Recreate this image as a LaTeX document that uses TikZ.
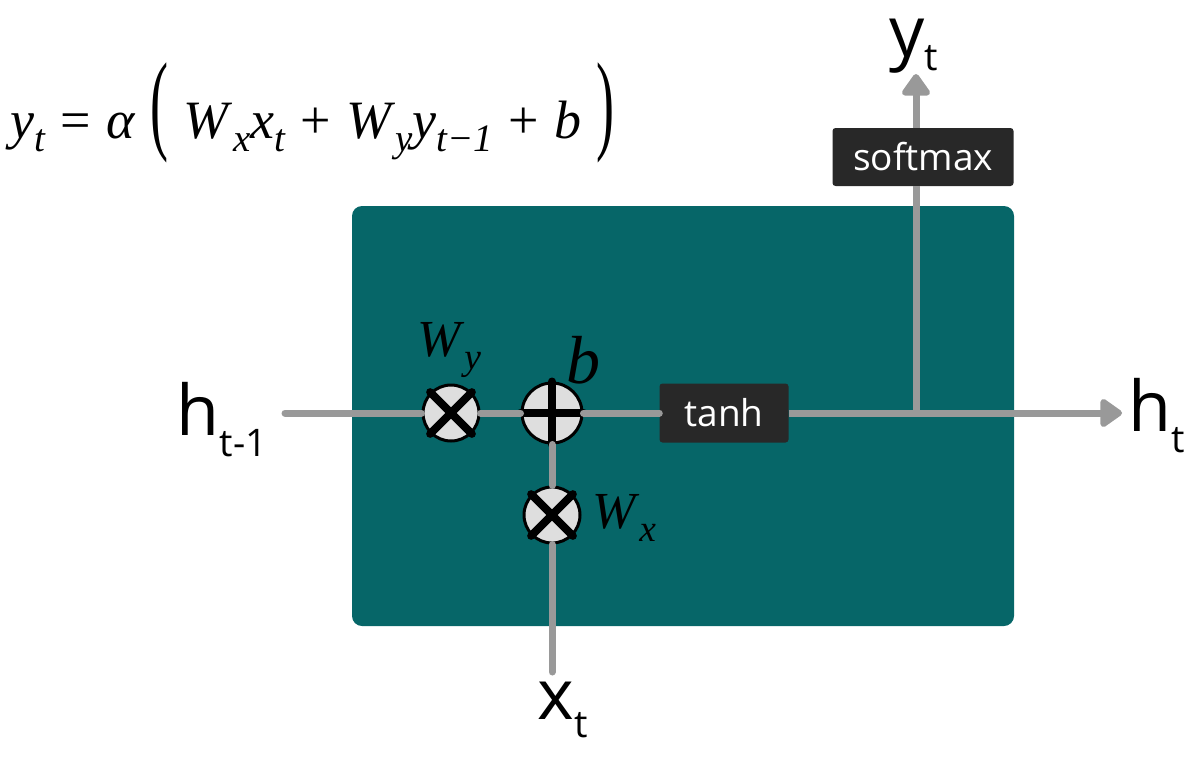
\documentclass[tikz,border=0pt]{standalone}
\usepackage{fontspec}
\newfontfamily\lblfont{Open Sans}
\newfontfamily\eqfont{Liberation Serif}
\usetikzlibrary{arrows.meta}
\definecolor{cellteal}{RGB}{6,102,104}
\definecolor{wire}{RGB}{153,153,153}
\definecolor{boxdark}{RGB}{40,40,40}
\definecolor{opfill}{RGB}{222,222,222}
\tikzset{
  wireline/.style={draw=wire, line width=7pt, line cap=round},
  wirearrow/.style={draw=wire, line width=7pt, -{Triangle[length=24pt,width=32pt,round]}},
  opnode/.style={circle, draw=black, line width=3pt, fill=opfill, minimum size=56pt, inner sep=0pt},
  opmark/.style={draw=black, line width=8pt, line cap=round},
  fnbox/.style={rectangle, rounded corners=3pt, fill=boxdark, text=white, inner sep=0pt, font=\lblfont\fontsize{37}{40}\selectfont},
  biglabel/.style={inner sep=0pt, font=\lblfont\fontsize{70}{72}\selectfont},
  mathlabel/.style={inner sep=0pt},
}
\newcommand{\subsz}{\fontsize{38}{40}\selectfont}
\newcommand{\isub}[2]{\textit{#1}\raisebox{-0.25em}{\fontsize{0.72em}{0.75em}\selectfont\textit{#2}}}
\newcommand{\opsp}{\hspace{0.28em}}
\begin{document}
\begin{tikzpicture}[x=1pt,y=-1pt]
\useasboundingbox (0,0) rectangle (1198,763);
% cell body
\fill[cellteal, rounded corners=10pt] (352,206) rectangle (1014,626);
% operators
\node[opnode] (mulY) at (451,413) {};
\node[opnode, minimum size=60pt] (add) at (552,413) {};
\node[opnode] (mulX) at (552,515) {};
\draw[opmark] (mulY.north east) -- (mulY.south west);
\draw[opmark] (mulY.north west) -- (mulY.south east);
\draw[opmark] (mulX.north east) -- (mulX.south west);
\draw[opmark] (mulX.north west) -- (mulX.south east);
\draw[opmark] (add.north) -- (add.south);
\draw[opmark] (add.west) -- (add.east);
% function boxes
\node[fnbox, minimum width=129pt, minimum height=59pt] (tanh) at (724,413) {tanh};
\node[fnbox, minimum width=181pt, minimum height=58pt] (softmax) at (923,157) {softmax};
% labels
\node[biglabel] (hin) at (222,420) {h\raisebox{-0.3em}{\subsz t-1}};
\node[biglabel] (hout) at (1157,416) {h\raisebox{-0.3em}{\subsz t}};
\node[biglabel] (yout) at (914,46) {y\raisebox{-0.2em}{\subsz t}};
\node[biglabel] (xin) at (563,710) {x\raisebox{-0.25em}{\subsz t}};
\node[mathlabel, font=\eqfont\fontsize{52}{54}\selectfont] (wy) at (449,350) {\isub{W}{y}};
\node[mathlabel, font=\eqfont\fontsize{68}{70}\selectfont] (bb) at (583,360) {\textit{b}};
\node[mathlabel, font=\eqfont\fontsize{52}{54}\selectfont] (wx) at (624,518) {\isub{W}{x}};
\node[mathlabel, font=\eqfont\fontsize{54}{56}\selectfont, anchor=west] (eqn) at (10,113)
  {\isub{y}{t}\opsp=\opsp\textit{α}\opsp\raisebox{-0.03em}{\scalebox{1}[2.05]{(}}\opsp\isub{W}{x}\isub{x}{t}\opsp+\opsp\isub{W}{y}\isub{y}{t−1}\opsp+\opsp\textit{b}\opsp\raisebox{-0.03em}{\scalebox{1}[2.05]{)}}};
% coordinates
\coordinate (hstart) at (285,413);
\coordinate (htip) at (1122,413);
\coordinate (split) at (916,413);
\coordinate (ytip) at (916,74);
\coordinate (xstart) at (552,672);
% connectors
\draw[wireline] (hstart) -- (mulY.west);
\draw[wireline] (mulY.east) -- (add.west);
\draw[wireline] (add.east) -- (tanh.west);
\draw[wirearrow] (tanh.east) -- (htip);
\draw[wireline] (xstart) -- (mulX.south);
\draw[wireline] (mulX.north) -- (add.south);
\draw[wireline, line cap=butt] (split) -- (softmax.south -| split);
\draw[wirearrow] (softmax.north -| split) -- (ytip);
\end{tikzpicture}
\end{document}
